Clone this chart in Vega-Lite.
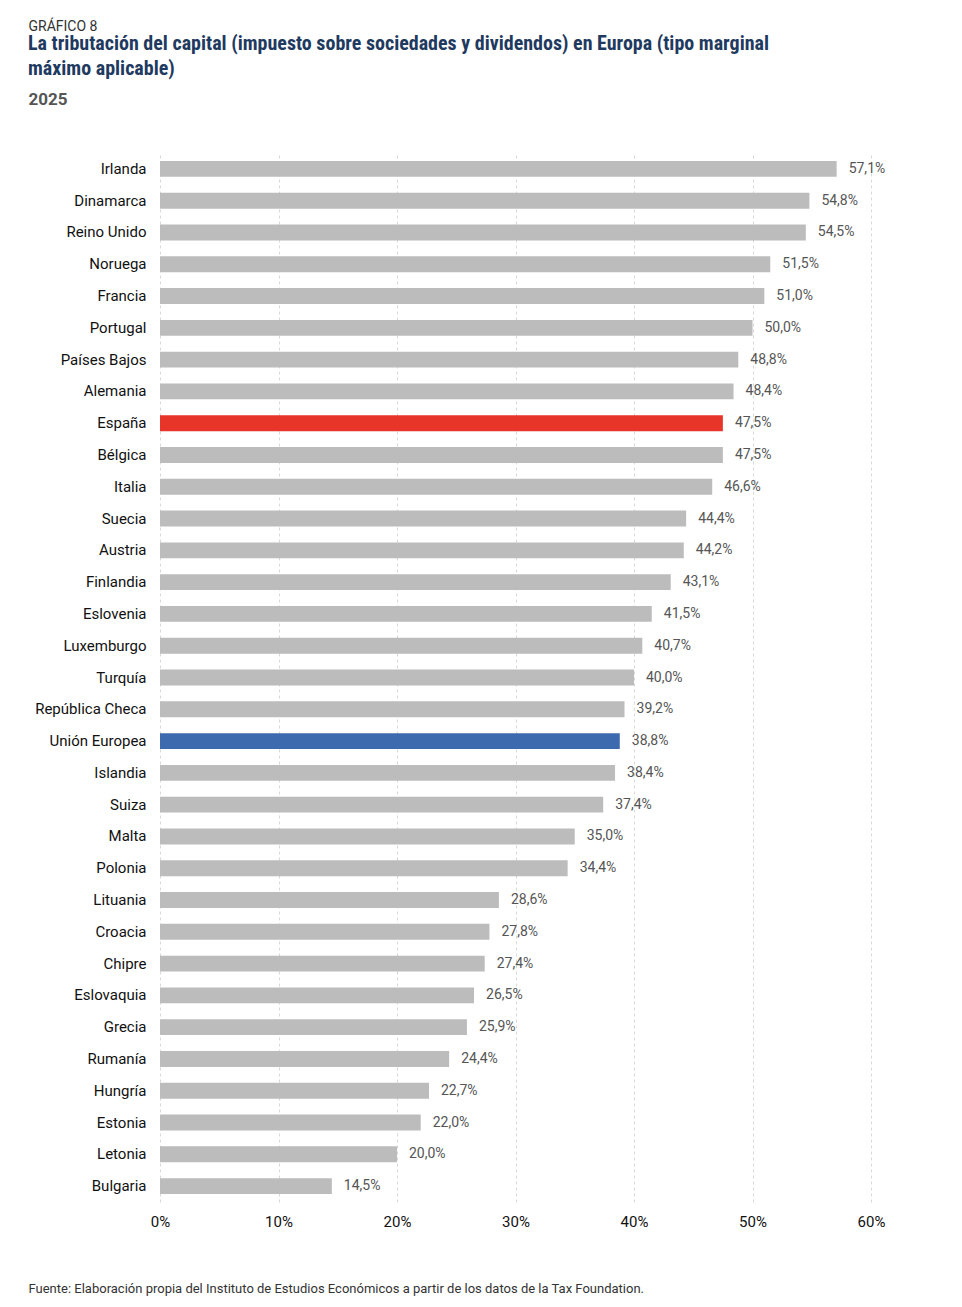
{
"$schema":"https://vega.github.io/schema/vega-lite/v6.json",
"width":711,"height":1049,
"autosize":{"type":"none"},
"padding":{"left":160,"top":153,"right":91,"bottom":105},
"config":{"locale":{"number":{"decimal":",","thousands":".","grouping":[3],"currency":["","€"]}},"font":"Roboto","view":{"stroke":null}},
"title":{"text":["La tributación del capital (impuesto sobre sociedades y dividendos) en Europa (tipo marginal","máximo aplicable)"],"anchor":"start","frame":"group","dx":-132,"offset":-60,"fontSize":20,"lineHeight":25,"fontWeight":"bold","color":"#1f3a60","font":"Roboto Condensed, Roboto"},
"data":{"values":[
{"p":"Irlanda","v":0.571,"g":"o"},{"p":"Dinamarca","v":0.548,"g":"o"},{"p":"Reino Unido","v":0.545,"g":"o"},{"p":"Noruega","v":0.515,"g":"o"},{"p":"Francia","v":0.51,"g":"o"},{"p":"Portugal","v":0.5,"g":"o"},{"p":"Países Bajos","v":0.488,"g":"o"},{"p":"Alemania","v":0.484,"g":"o"},{"p":"España","v":0.475,"g":"es"},{"p":"Bélgica","v":0.475,"g":"o"},{"p":"Italia","v":0.466,"g":"o"},{"p":"Suecia","v":0.444,"g":"o"},{"p":"Austria","v":0.442,"g":"o"},{"p":"Finlandia","v":0.431,"g":"o"},{"p":"Eslovenia","v":0.415,"g":"o"},{"p":"Luxemburgo","v":0.407,"g":"o"},{"p":"Turquía","v":0.4,"g":"o"},{"p":"República Checa","v":0.392,"g":"o"},{"p":"Unión Europea","v":0.388,"g":"ue"},{"p":"Islandia","v":0.384,"g":"o"},{"p":"Suiza","v":0.374,"g":"o"},{"p":"Malta","v":0.35,"g":"o"},{"p":"Polonia","v":0.344,"g":"o"},{"p":"Lituania","v":0.286,"g":"o"},{"p":"Croacia","v":0.278,"g":"o"},{"p":"Chipre","v":0.274,"g":"o"},{"p":"Eslovaquia","v":0.265,"g":"o"},{"p":"Grecia","v":0.259,"g":"o"},{"p":"Rumanía","v":0.244,"g":"o"},{"p":"Hungría","v":0.227,"g":"o"},{"p":"Estonia","v":0.22,"g":"o"},{"p":"Letonia","v":0.2,"g":"o"},{"p":"Bulgaria","v":0.145,"g":"o"}
]},
"encoding":{
"y":{"field":"p","type":"nominal","sort":null,"scale":{"paddingInner":0.5,"paddingOuter":0.25},
"axis":{"title":"2025","titleAngle":0,"titleX":-132,"titleY":-45,"titleAlign":"left","titleFontSize":17,"titleColor":"#555","titleFontWeight":"bold","labelFontSize":15,"labelColor":"#111","labelPadding":14,"ticks":false,"domain":false}},
"x":{"field":"v","type":"quantitative","scale":{"domain":[0,0.6]},
"axis":{"format":".0%","values":[0,0.1,0.2,0.3,0.4,0.5,0.6],"labelOverlap":false,"labelFlush":false,"grid":true,"gridDash":[3,3],"gridColor":"#d8d8d8","domain":false,"ticks":false,"labelFontSize":15,"labelColor":"#111","labelPadding":12,
"title":"Fuente: Elaboración propia del Instituto de Estudios Económicos a partir de los datos de la Tax Foundation.","titleX":-132,"titleY":80,"titleAlign":"left","titleFontSize":13,"titleFontWeight":"normal","titleColor":"#333"}}
},
"layer":[
{"mark":{"type":"bar"},"encoding":{"color":{"field":"g","type":"nominal","scale":{"domain":["o","es","ue"],"range":["#bcbcbc","#e8352a","#3d6aae"]},"legend":null}}},
{"mark":{"type":"text","align":"left","dx":12,"fontSize":14,"color":"#555"},"encoding":{"text":{"field":"v","format":".1%"},
"x":{"field":"v","type":"quantitative","axis":{"orient":"top","labels":false,"grid":false,"domain":false,"ticks":false,"title":"GRÁFICO 8","titleX":-132,"titleY":-120,"titleAlign":"left","titleFontSize":14,"titleFontWeight":"normal","titleColor":"#333"}}}}
],
"resolve":{"axis":{"x":"independent"}}
}
